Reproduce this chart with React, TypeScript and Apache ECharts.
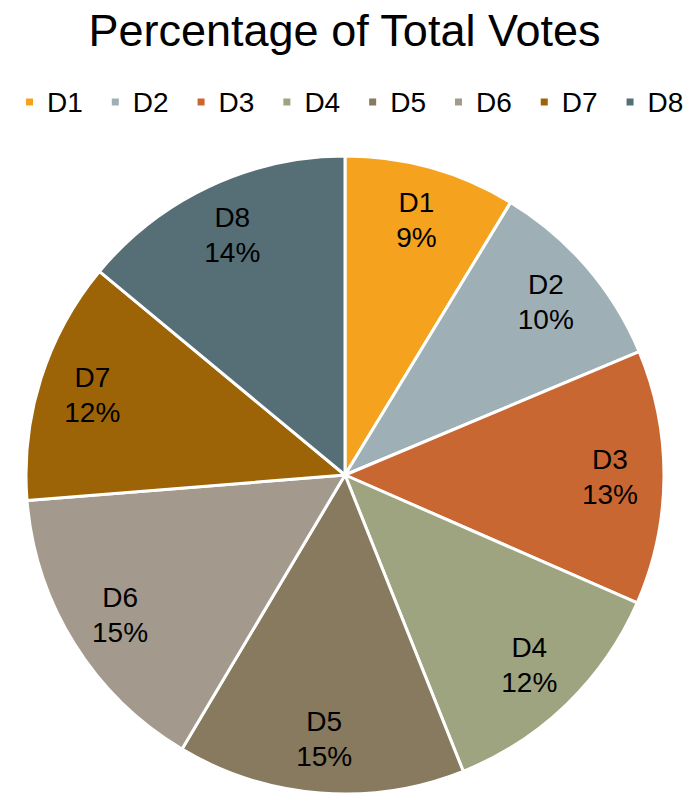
import React, { useEffect, useRef } from "react";
import * as echarts from "echarts";

const categories = ["D1", "D2", "D3", "D4", "D5", "D6", "D7", "D8"];
const values = [8.7, 10.0, 12.9, 12.4, 14.6, 15.2, 12.3, 14.0];
const colors = ["#F5A31F", "#9EB0B6", "#C96732", "#9DA47F", "#877A5E", "#A39A8D", "#9C6406", "#566E75"];

export default function App() {
  const ref = useRef<HTMLDivElement>(null);
  useEffect(() => {
    if (!ref.current) return;
    const chart = echarts.init(ref.current, undefined, { renderer: "svg" });
    const total = values.reduce((a, b) => a + b, 0);
    const font = "'Liberation Sans', Arial, sans-serif";
    chart.setOption({
      animation: false,
      backgroundColor: "#ffffff",
      textStyle: { fontFamily: font },
      title: {
        text: "Percentage of Total Votes",
        left: "center",
        top: 3,
        textStyle: { fontSize: 45, fontWeight: "normal", color: "#000000", fontFamily: font },
      },
      legend: {
        top: 88,
        left: 24,
        width: 665,
        padding: 0,
        icon: "rect",
        itemWidth: 9,
        itemHeight: 9,
        itemGap: 27,
        textStyle: { fontSize: 28, color: "#000000", fontFamily: font, padding: [0, 0, 0, 8] },
        data: categories.map((c, i) => ({ name: c, itemStyle: { color: colors[i] } })),
      },
      series: [
        {
          type: "pie",
          center: [345, 475],
          radius: [0, 319],
          startAngle: 90,
          clockwise: true,
          silent: true,
          label: { show: false },
          labelLine: { show: false },
          itemStyle: { borderColor: "#ffffff", borderWidth: 3 },
          data: categories.map((c, i) => ({ name: c, value: values[i], itemStyle: { color: colors[i] } })),
        },
        {
          type: "pie",
          center: [345, 475],
          radius: [204, 320],
          startAngle: 90,
          clockwise: true,
          silent: true,
          itemStyle: { color: "rgba(0,0,0,0)", borderWidth: 0 },
          label: {
            show: true,
            position: "inside",
            fontSize: 28,
            lineHeight: 35,
            color: "#000000",
            fontFamily: font,
            formatter: (p: any) => `${p.name}\n${Math.round((p.value / total) * 100)}%`,
          },
          labelLine: { show: false },
          data: categories.map((c, i) => ({ name: c, value: values[i], itemStyle: { color: "rgba(0,0,0,0)" } })),
        },
      ],
    });
    return () => chart.dispose();
  }, []);
  return (
    <div
      ref={ref}
      style={{ position: "absolute", left: 0, top: 0, width: 689, height: 793 }}
    />
  );
}
